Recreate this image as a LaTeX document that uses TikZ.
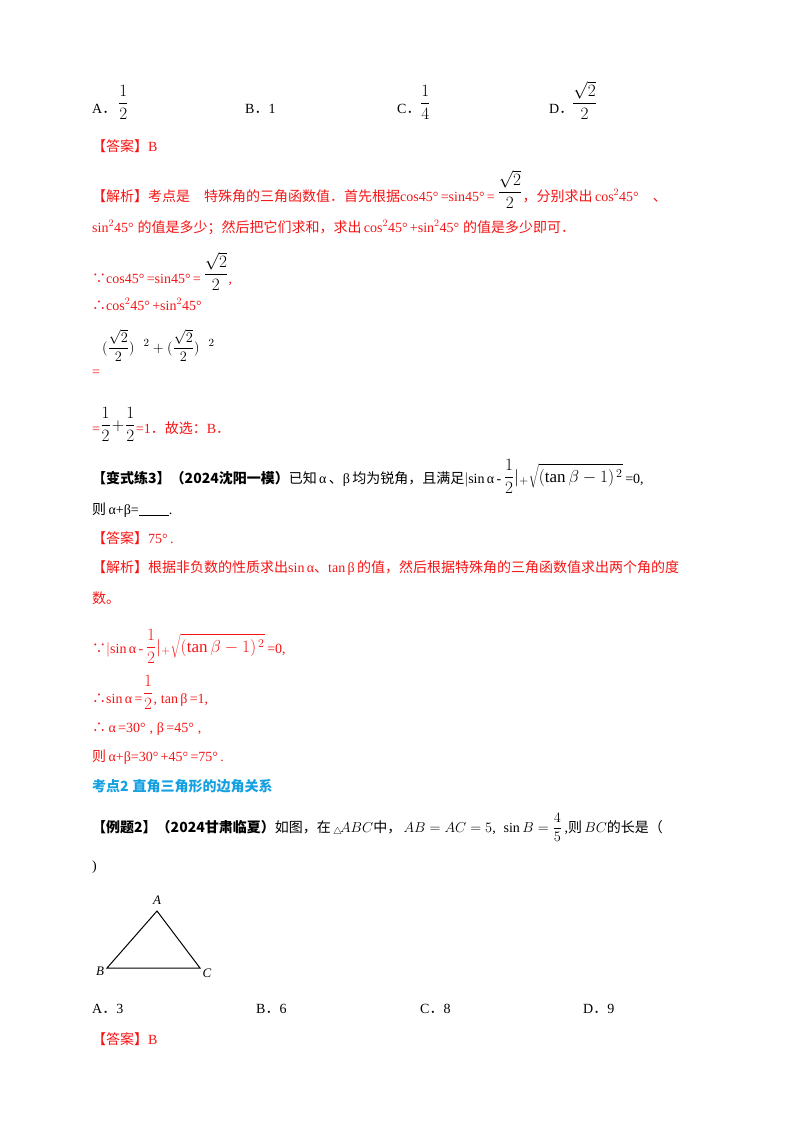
\documentclass[tikz,border=0pt]{standalone}
\usepackage{fontspec}
\setmainfont{Liberation Serif}
\newfontfamily\cjk{Noto Sans CJK SC}
\definecolor{myred}{RGB}{245,20,20}
\definecolor{myblue}{RGB}{20,160,225}
\begin{document}
\begin{tikzpicture}[x=1pt,y=-1pt,
 t/.style={anchor=base west,inner sep=0pt,font=\fontsize{14}{16}\selectfont},
 r/.style={t,text=myred},
 fr/.style={anchor=base west,inner sep=0pt,font=\fontsize{17}{19}\selectfont}]
\useasboundingbox (0,0) rectangle (800,1132);
% options
\node[t] (oa) at (92,113) {A{\cjk ．}};
\node[fr] (oaf) at (118,108) {$\displaystyle\frac{1}{2}$};
\node[t] (ob) at (245,113) {B{\cjk ．}1};
\node[t] (oc) at (397,113) {C{\cjk ．}};
\node[fr] (ocf) at (420,108) {$\displaystyle\frac{1}{4}$};
\node[t] (od) at (549,113) {D{\cjk ．}};
\node[fr] (odf) at (572,108) {$\displaystyle\frac{\sqrt2}{2}$};
\node[r] (ans1) at (92,151) {{\cjk 【答案】}B};
\node[r] (j1) at (92,201) {{\cjk 【解析】考点是\quad 特殊角的三角函数值．首先根据}cos45°\,=sin45°\,=\,};
\node[fr] (j1f) at ([yshift=4pt]j1.base east) {$\displaystyle\frac{\sqrt2}{2}$};
\node[r] (j1b) at (j1f.east |- j1.base) {{\cjk ，分别求出}\,cos$^2$45°\quad{\cjk 、}};
\node[r] (j2) at (92,232) {sin$^2$45°\;{\cjk 的值是多少；然后把它们求和，求出}\,cos$^2$45°\,+sin$^2$45°\;{\cjk 的值是多少即可．}};
\node[r] (s1) at (92,283) {{\cjk ∵}cos45°\,=sin45°\,=\,};
\node[fr] (s1f) at ([yshift=4pt]s1.base east) {$\displaystyle\frac{\sqrt2}{2}$};
\node[r] (s1b) at (s1f.east |- s1.base) {,};
\node[r] (s2) at (92,310) {{\cjk ∴}cos$^2$45°\,+sin$^2$45°};
\node[fr,font=\fontsize{15}{17}\selectfont] (s3) at (102,352) {$(\displaystyle\frac{\sqrt2}{2})^{\;\;\;2}+(\frac{\sqrt2}{2})^{\;\;\;2}$};
\node[r] (s4) at (92,376) {=};
\node[r] (s5) at (92,433) {=};
\node[fr] (s5f) at ([yshift=3pt]s5.base east) {$\displaystyle\frac{1}{2}\!+\!\frac{1}{2}$};
\node[r] (s5b) at (s5f.east |- s5.base) {=1{\cjk ．故选：}B{\cjk ．}};
% bianshi 3
\node[t] (b3) at (92,483) {{\cjk\bfseries 【变式练3】（2024沈阳一模）}{\cjk 已知}\,α\,{\cjk 、}β\,{\cjk 均为锐角，且满足}$|$sin\,α\,-\,};
\node[fr] (b3f) at ([yshift=1pt]b3.base east) {$\displaystyle\frac{1}{2}|_{+}\sqrt{(\tan\beta-1)^{\,2}}$};
\node[t] (b3b) at (b3f.east |- b3.base) {\,=0,};
\node[t] (b3c) at (92,514) {{\cjk 则}\,α+β=\underline{\hspace{30pt}}.};
\node[r] (ans3) at (92,543) {{\cjk 【答案】}75°\,.};
\node[r] (jx3) at (92,572) {{\cjk 【解析】根据非负数的性质求出}sin\,α{\cjk 、}tan\,β\,{\cjk 的值，然后根据特殊角的三角函数值求出两个角的度}};
\node[r] (jx3b) at (92,603) {{\cjk 数。}};
\node[r] (u1) at (92,653) {{\cjk ∵}$|$sin\,α\,-\,};
\node[fr,text=myred] (u1f) at ([yshift=1pt]u1.base east) {$\displaystyle\frac{1}{2}|_{+}\sqrt{(\tan\beta-1)^{\,2}}$};
\node[r] (u1b) at (u1f.east |- u1.base) {\,=0,};
\node[r] (u2) at (92,703) {{\cjk ∴}sin\,α\,=};
\node[fr,text=myred] (u2f) at ([yshift=5pt]u2.base east) {$\displaystyle\frac{1}{2}$};
\node[r] (u2b) at (u2f.east |- u2.base) {,\;tan\,β\,=1,};
\node[r] (u3) at (92,732) {{\cjk ∴}\,α\,=30°\;,\;β\,=45°\;,};
\node[r] (u4) at (92,761) {{\cjk 则}\,α+β=30°\,+45°\,=75°\,.};
\node[t,text=myblue] (kd) at (92,791) {{\cjk\bfseries 考点2\;直角三角形的边角关系}};
\node[t] (lt) at (92,832) {{\cjk\bfseries 【例题2】（2024甘肃临夏）}{\cjk 如图，在}\,$_{\triangle}\!ABC${\cjk 中，}\,$AB=AC=5$,\;\;$\sin B=\displaystyle\frac{4}{5}$\,,{\cjk 则}\,$BC${\cjk 的长是（}};
\node[t] (lt2) at (92,870) {)};
% triangle
\coordinate (A) at (157,911);
\coordinate (B) at (107,968);
\coordinate (C) at (200,968);
\draw[line width=1pt] (A) -- (B) -- (C) -- cycle;
\node[font=\itshape\fontsize{13}{15}\selectfont,inner sep=1pt] (la) at (157,900) {A};
\node[font=\itshape\fontsize{13}{15}\selectfont,inner sep=1pt] (lb) at (100,971) {B};
\node[font=\itshape\fontsize{13}{15}\selectfont,inner sep=1pt] (lc) at (207,973) {C};
\node[t] (p1) at (92,1013) {A{\cjk ．}3};
\node[t] (p2) at (256,1013) {B{\cjk ．}6};
\node[t] (p3) at (420,1013) {C{\cjk ．}8};
\node[t] (p4) at (583,1013) {D{\cjk ．}9};
\node[r] (ans4) at (92,1044) {{\cjk 【答案】}B};
\end{tikzpicture}
\end{document}
